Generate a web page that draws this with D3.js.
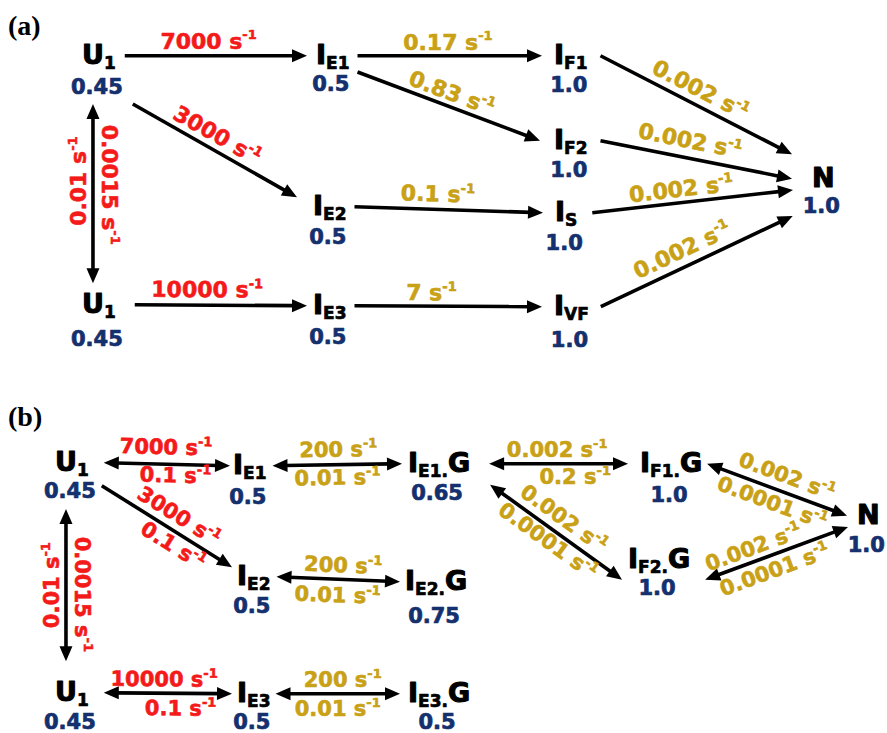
<!DOCTYPE html>
<html>
<head>
<meta charset="utf-8">
<script src="https://cdn.jsdelivr.net/npm/d3@7"></script>
<style>
  html, body { margin: 0; padding: 0; background: #fff; }
  svg { display: block; }
  text { paint-order: stroke; stroke-linejoin: round; }
</style>
</head>
<body>
<svg id="scheme" width="887" height="733"></svg>
<script>
// ----- kinetic scheme data -----
const panelTitles = ["(a)", "(b)"];

// Panel (a): species and their relative signal values
const statesA = [
  { id: "U1",  sym: "U", sub: "1",  value: 0.45 },
  { id: "U1b", sym: "U", sub: "1",  value: 0.45 },
  { id: "IE1", sym: "I", sub: "E1", value: 0.5 },
  { id: "IE2", sym: "I", sub: "E2", value: 0.5 },
  { id: "IE3", sym: "I", sub: "E3", value: 0.5 },
  { id: "IF1", sym: "I", sub: "F1", value: 1.0 },
  { id: "IF2", sym: "I", sub: "F2", value: 1.0 },
  { id: "IS",  sym: "I", sub: "S",  value: 1.0 },
  { id: "IVF", sym: "I", sub: "VF", value: 1.0 },
  { id: "N",   sym: "N", sub: "",   value: 1.0 }
];

// Panel (a): transitions with rate constants (s^-1); k[0] forward, k[1] reverse
const transitionsA = [
  { from: "U1",  to: "IE1", k: [7000],          tone: "red",  heads: "end" },
  { from: "U1",  to: "IE2", k: [3000],          tone: "red",  heads: "end" },
  { from: "U1",  to: "U1b", k: [0.0015, 0.01],  tone: "red",  heads: "both" },
  { from: "U1b", to: "IE3", k: [10000],         tone: "red",  heads: "end" },
  { from: "IE1", to: "IF1", k: [0.17],          tone: "gold", heads: "end" },
  { from: "IE1", to: "IF2", k: [0.83],          tone: "gold", heads: "end" },
  { from: "IE2", to: "IS",  k: [0.1],           tone: "gold", heads: "end" },
  { from: "IE3", to: "IVF", k: [7],             tone: "gold", heads: "end" },
  { from: "IF1", to: "N",   k: [0.002],         tone: "gold", heads: "end" },
  { from: "IF2", to: "N",   k: [0.002],         tone: "gold", heads: "end" },
  { from: "IS",  to: "N",   k: [0.002],         tone: "gold", heads: "end" },
  { from: "IVF", to: "N",   k: [0.002],         tone: "gold", heads: "end" }
];

// Panel (b): species with bound G
const statesB = [
  { id: "U1",   sym: "U", sub: "1",   suffix: "",  value: 0.45 },
  { id: "U1b",  sym: "U", sub: "1",   suffix: "",  value: 0.45 },
  { id: "IE1",  sym: "I", sub: "E1",  suffix: "",  value: 0.5 },
  { id: "IE2",  sym: "I", sub: "E2",  suffix: "",  value: 0.5 },
  { id: "IE3",  sym: "I", sub: "E3",  suffix: "",  value: 0.5 },
  { id: "IE1G", sym: "I", sub: "E1.", suffix: "G", value: 0.65 },
  { id: "IE2G", sym: "I", sub: "E2.", suffix: "G", value: 0.75 },
  { id: "IE3G", sym: "I", sub: "E3.", suffix: "G", value: 0.5 },
  { id: "IF1G", sym: "I", sub: "F1.", suffix: "G", value: 1.0 },
  { id: "IF2G", sym: "I", sub: "F2.", suffix: "G", value: 1.0 },
  { id: "N",    sym: "N", sub: "",    suffix: "",  value: 1.0 }
];

const transitionsB = [
  { from: "U1",   to: "IE1",  k: [7000, 0.1],      tone: "red",  heads: "both" },
  { from: "U1",   to: "IE2",  k: [3000, 0.1],      tone: "red",  heads: "end" },
  { from: "U1",   to: "U1b",  k: [0.0015, 0.01],   tone: "red",  heads: "both" },
  { from: "U1b",  to: "IE3",  k: [10000, 0.1],     tone: "red",  heads: "both" },
  { from: "IE1",  to: "IE1G", k: [200, 0.01],      tone: "gold", heads: "both" },
  { from: "IE2",  to: "IE2G", k: [200, 0.01],      tone: "gold", heads: "both" },
  { from: "IE3",  to: "IE3G", k: [200, 0.01],      tone: "gold", heads: "both" },
  { from: "IE1G", to: "IF1G", k: [0.002, 0.2],     tone: "gold", heads: "both" },
  { from: "IE1G", to: "IF2G", k: [0.002, 0.0001],  tone: "gold", heads: "both" },
  { from: "IF1G", to: "N",    k: [0.002, 0.0001],  tone: "gold", heads: "both" },
  { from: "IF2G", to: "N",    k: [0.002, 0.0001],  tone: "gold", heads: "both" }
];

// ----- layout: [symbol left x, name baseline, value baseline] -----
const layoutA = {
  U1: [82, 64, 94],   IE1: [316, 64, 91],  IF1: [554, 64, 92],
  IF2: [554, 149, 177], N: [812, 187, 213],
  IE2: [313, 215, 244], IS: [555, 221, 250],
  IE3: [313, 314, 344], IVF: [554, 315, 347], U1b: [82, 313, 346]
};
const layoutB = {
  U1: [55, 471, 498],   IE1: [233, 474, 504], IE1G: [408, 472, 500],
  IF1G: [640, 472, 502], N: [857, 524, 552],  IF2G: [628, 568, 595],
  IE2: [237, 585, 613], IE2G: [405, 590, 623],
  U1b: [55, 701, 729],  IE3: [237, 702, 729], IE3G: [408, 702, 729]
};

// arrow routing: ports, gaps, and label placement (t along arrow, dy = baseline offset)
const routesA = [
  { p: ["e", "w"],    g: [9, 9],   lab: [{ t: 0.46, dy: -7 }] },
  { p: ["se", "wnw"], g: [10, 16], lab: [{ t: 0.47, dy: -7 }] },
  { p: ["s", "n"],    g: [10, 10], lab: [{ t: 0.45, dy: -9 }, { t: 0.43, dy: -7, flip: true }] },
  { p: ["e", "w"],    g: [19, 6],  lab: [{ t: 0.42, dy: -8 }] },
  { p: ["e", "w"],    g: [8, 12],  lab: [{ t: 0.49, dy: -6 }] },
  { p: ["ese", "w"],  g: [8, 14],  lab: [{ t: 0.49, dy: -6 }] },
  { p: ["e", "w"],    g: [8, 12],  lab: [{ t: 0.44, dy: -8 }] },
  { p: ["e", "w"],    g: [8, 12],  lab: [{ t: 0.41, dy: -6 }] },
  { p: ["e", "nw"],   g: [13, 20], lab: [{ t: 0.485, dy: -8 }] },
  { p: ["e", "w"],    g: [13, 20], lab: [{ t: 0.45, dy: -10 }] },
  { p: ["e", "wsw"],  g: [15, 19], lab: [{ t: 0.45, dy: -6 }] },
  { p: ["e", "sw"],   g: [12, 10], lab: [{ t: 0.46, dy: -9 }] }
];
const routesB = [
  { p: ["e", "w"],     g: [15, 3],  lab: [{ t: 0.49, dy: -10 }, { t: 0.57, dy: 18 }] },
  { p: ["ve", "wnw"],  g: [6, 5],   lab: [{ t: 0.53, dy: -8 }, { t: 0.6, dy: 20 }] },
  { p: ["s", "n"],     g: [11, 20], lab: [{ t: 0.56, dy: -9 }, { t: 0.5, dy: -7, flip: true }] },
  { p: ["e", "w"],     g: [15, 5],  lab: [{ t: 0.47, dy: -7 }, { t: 0.6, dy: 22 }] },
  { p: ["e", "w"],     g: [6, 6],   lab: [{ t: 0.51, dy: -8 }, { t: 0.5, dy: 20 }] },
  { p: ["e", "w"],     g: [6, 5],   lab: [{ t: 0.535, dy: -7 }, { t: 0.5, dy: 23 }] },
  { p: ["e", "w"],     g: [5, 8],   lab: [{ t: 0.54, dy: -7 }, { t: 0.5, dy: 22 }] },
  { p: ["e", "w"],     g: [19, 12], lab: [{ t: 0.49, dy: -7 }, { t: 0.62, dy: 20 }] },
  { p: ["vne", "vnw"], g: [20, 6],  lab: [{ t: 0.49, dy: -8.5 }, { t: 0.49, dy: 19 }] },
  { p: ["e", "w"],     g: [5, 10],  lab: [{ t: 0.53, dy: -9 }, { t: 0.5, dy: 21 }] },
  { p: ["vne", "wsw"], g: [15, 9],  lab: [{ t: 0.37, dy: -6.5 }, { t: 0.45, dy: 22 }] }
];

// ----- styles -----
const FONT = "'DejaVu Sans', Verdana, sans-serif";
const COLORS = { red: "#f41a1a", gold: "#c9a116", navy: "#14306e", ink: "#000" };
const SYM_SIZE = 27, SUB_SIZE = 17, VAL_SIZE = 21, CAP = 0.729;

const svg = d3.select("#scheme");
const fmtValue = v => (Number.isInteger(v) ? v.toFixed(1) : String(v));

function drawStates(root, states, layout) {
  const boxes = {};
  states.forEach(s => {
    const [x, y, vy] = layout[s.id];
    const g = root.append("g").attr("class", "state");
    const name = g.append("text")
      .attr("x", x).attr("y", y)
      .attr("font-family", FONT).attr("font-weight", "bold")
      .attr("fill", COLORS.ink).attr("stroke", COLORS.ink).attr("stroke-width", 1.1);
    const main = name.append("tspan").attr("font-size", SYM_SIZE).text(s.sym);
    if (s.sub) name.append("tspan").attr("font-size", SUB_SIZE).attr("dy", 5).attr("stroke-width", 0.7).text(s.sub);
    if (s.suffix) name.append("tspan").attr("font-size", SYM_SIZE).attr("dy", -5).text(s.suffix);
    const mw = main.node().getComputedTextLength();
    const nw = name.node().getComputedTextLength();
    const cx = x + nw / 2 - 2;
    const val = g.append("text")
      .attr("x", cx).attr("y", vy)
      .attr("text-anchor", "middle")
      .attr("font-family", FONT).attr("font-weight", "bold")
      .attr("font-size", VAL_SIZE).attr("fill", COLORS.navy)
      .attr("stroke", COLORS.navy).attr("stroke-width", 0.7)
      .text(fmtValue(s.value));
    const vw = val.node().getComputedTextLength();
    boxes[s.id] = {
      mx1: x, mcx: x + mw / 2, nx1: x, nx2: x + nw,
      base: y, cap: SYM_SIZE * CAP, top: y - SYM_SIZE * CAP,
      vx1: cx - vw / 2, vx2: cx + vw / 2, vbase: vy, vtop: vy - VAL_SIZE * CAP
    };
  });
  return boxes;
}

function port(b, name, g) {
  switch (name) {
    case "e":   return [b.nx2 + g, b.base - b.cap * 0.42];
    case "w":   return [b.nx1 - g, b.base - b.cap * 0.42];
    case "n":   return [b.mcx, b.top - g];
    case "s":   return [b.mcx, b.vbase + g];
    case "se":  return [b.vx2 + g, b.vbase + g];
    case "ve":  return [b.vx2 + g, b.vtop + 3];
    case "ese": return [b.nx2 + g, b.base + 8];
    case "wnw": return [b.mx1 - g, b.top + b.cap * 0.1];
    case "nw":  return [b.mx1 - g, b.top - g * 0.65];
    case "wsw": return [b.nx1 - g, b.base + 3];
    case "sw":  return [b.vx1 - g, b.vbase + 3];
    case "vne": return [Math.max(b.nx2, b.vx2) + g, b.vtop];
    case "vnw": return [Math.min(b.mx1, b.vx1) - g, b.vtop];
  }
}

const HEAD_LEN = 15, HEAD_HALF = 6.5, LINE_W = 3.6;
const line = d3.line();

function drawArrow(root, a, b, heads) {
  const dx = b[0] - a[0], dy = b[1] - a[1];
  const L = Math.hypot(dx, dy), ux = dx / L, uy = dy / L, nx = -uy, ny = ux;
  const atEnd = heads === "end" || heads === "both";
  const atStart = heads === "start" || heads === "both";
  const s = atStart ? [a[0] + ux * (HEAD_LEN - 3), a[1] + uy * (HEAD_LEN - 3)] : a;
  const e = atEnd ? [b[0] - ux * (HEAD_LEN - 3), b[1] - uy * (HEAD_LEN - 3)] : b;
  root.append("path").attr("d", line([s, e]))
    .attr("stroke", COLORS.ink).attr("stroke-width", LINE_W).attr("fill", "none");
  [[atEnd, b, 1], [atStart, a, -1]].forEach(([on, tip, sgn]) => {
    if (!on) return;
    const bx = tip[0] - sgn * ux * HEAD_LEN, by = tip[1] - sgn * uy * HEAD_LEN;
    root.append("path")
      .attr("d", line([tip, [bx + nx * HEAD_HALF, by + ny * HEAD_HALF], [bx - nx * HEAD_HALF, by - ny * HEAD_HALF]]) + "Z")
      .attr("fill", COLORS.ink);
  });
}

function drawRate(root, a, b, k, opt, color, size) {
  const ang = Math.atan2(b[1] - a[1], b[0] - a[0]) * 180 / Math.PI;
  const px = a[0] + (b[0] - a[0]) * opt.t, py = a[1] + (b[1] - a[1]) * opt.t;
  const rot = opt.flip ? ang + 180 : ang;
  const t = root.append("g")
    .attr("transform", `translate(${px},${py}) rotate(${rot})`)
    .append("text")
    .attr("x", 0).attr("y", opt.dy)
    .attr("text-anchor", "middle")
    .attr("font-family", FONT).attr("font-weight", "bold")
    .attr("font-size", size).attr("fill", color)
    .attr("stroke", color).attr("stroke-width", 0.6);
  t.append("tspan").text(`${k} s`);
  t.append("tspan").attr("font-size", Math.round(size * 0.6)).attr("dy", -size * 0.42).text("-1");
}

function drawPanel(root, states, layout, transitions, routes, rateSize) {
  const boxes = drawStates(root, states, layout);
  const arrows = root.append("g").attr("class", "arrows");
  const labels = root.append("g").attr("class", "rates");
  transitions.forEach((tr, i) => {
    const r = routes[i];
    const a = port(boxes[tr.from], r.p[0], r.g[0]);
    const b = port(boxes[tr.to], r.p[1], r.g[1]);
    drawArrow(arrows, a, b, tr.heads);
    tr.k.forEach((kv, j) => drawRate(labels, a, b, kv, r.lab[j], COLORS[tr.tone], rateSize));
  });
}

// panel titles
svg.selectAll("text.panel")
  .data(panelTitles)
  .join("text")
  .attr("class", "panel")
  .attr("x", 8)
  .attr("y", (d, i) => (i === 0 ? 35 : 426))
  .attr("font-family", "'Liberation Serif', 'Times New Roman', serif")
  .attr("font-weight", "bold")
  .attr("font-size", 28)
  .attr("fill", COLORS.ink)
  .text(d => d);

drawPanel(svg.append("g").attr("class", "panel-a"), statesA, layoutA, transitionsA, routesA, 22);
drawPanel(svg.append("g").attr("class", "panel-b"), statesB, layoutB, transitionsB, routesB, 21);
</script>
</body>
</html>
